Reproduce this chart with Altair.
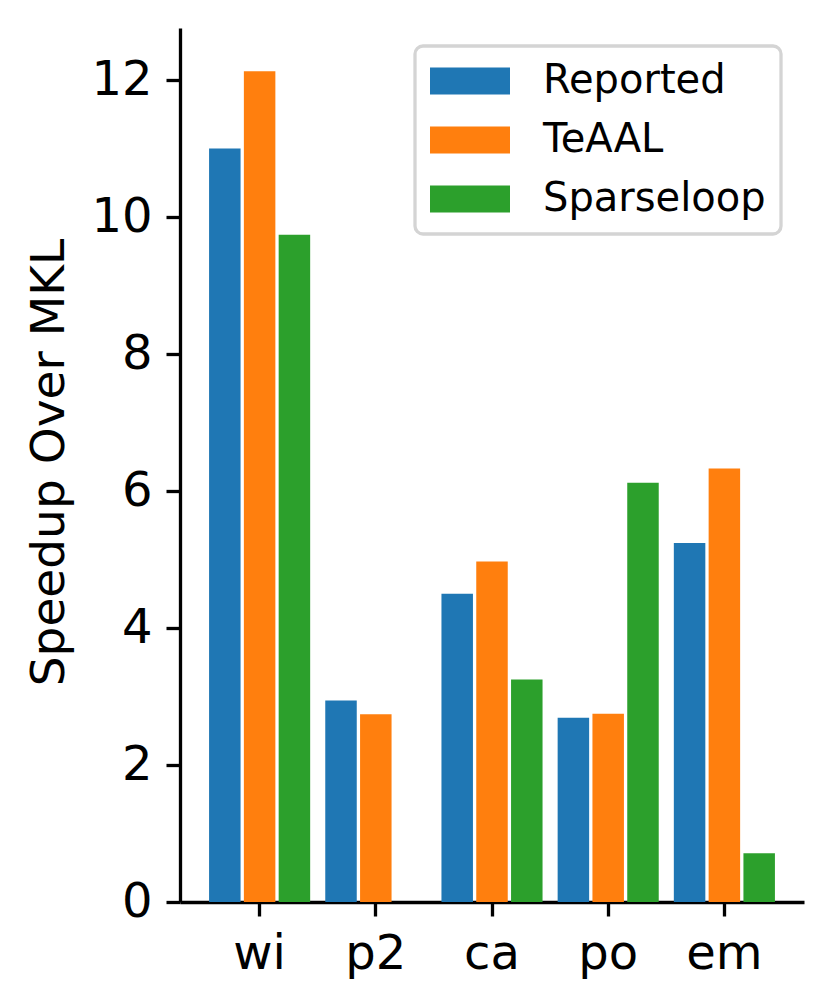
import altair as alt
import pandas as pd

datasets = ["wi", "p2", "ca", "po", "em"]
series = ["Reported", "TeAAL", "Sparseloop"]
reported = [11.0, 2.94, 4.50, 2.69, 5.24]
teaal = [12.13, 2.74, 4.97, 2.75, 6.33]
sparseloop = [9.74, None, 3.25, 6.12, 0.71]
colors = ["#1f77b4", "#ff7f0e", "#2ca02c"]
y_ticks = [0, 2, 4, 6, 8, 10, 12]

rows = []
for i, d in enumerate(datasets):
    for s, vals in zip(series, [reported, teaal, sparseloop]):
        if vals[i] is not None:
            rows.append({"dataset": d, "series": s, "speedup": vals[i]})
df = pd.DataFrame(rows)

FONT = "DejaVu Sans"

chart = alt.Chart(df).mark_bar().encode(
    x=alt.X("dataset:N", sort=datasets,
            scale=alt.Scale(paddingInner=0.1015, paddingOuter=0.236),
            axis=alt.Axis(title=None, labelAngle=0, labelFontSize=48,
                          labelBaseline="alphabetic", labelPadding=52,
                          tickSize=14, tickWidth=3.3, domainWidth=3.3,
                          domainColor="black", tickColor="black",
                          labelColor="black", labelFont=FONT)),
    xOffset=alt.XOffset("series:N", sort=series,
                        scale=alt.Scale(paddingInner=0.095, paddingOuter=0.0475)),
    y=alt.Y("speedup:Q",
            scale=alt.Scale(domain=[0, 12.76], nice=False, zero=True),
            axis=alt.Axis(title="Speedup Over MKL", values=y_ticks, grid=False,
                          labelFontSize=48, labelPadding=14, tickSize=14,
                          tickWidth=3.3, domainWidth=3.3, domainColor="black",
                          tickColor="black", labelColor="black", labelFont=FONT,
                          titleFont=FONT, titleFontSize=47, titleFontWeight="normal",
                          titleColor="black", titleAngle=270, titleX=-116.5,
                          titleY=434, titleAlign="center",
                          titleBaseline="alphabetic")),
    color=alt.Color("series:N", sort=series,
                    scale=alt.Scale(domain=series, range=colors),
                    legend=alt.Legend(title=None, orient="none", legendX=235,
                                      legendY=18,
                                      symbolType="M-1,-0.675H3V0.675H-1Z",
                                      symbolSize=1600, symbolStrokeWidth=0,
                                      symbolOpacity=1,
                                      labelFontSize=40, labelFont=FONT,
                                      labelColor="black", labelOffset=73,
                                      labelLimit=500,
                                      rowPadding=19, padding=15,
                                      fillColor="white", strokeColor="#d4d4d4",
                                      cornerRadius=8)),
).properties(
    width=624,
    height=874,
    autosize=alt.AutoSizeParams(type="none"),
    padding={"left": 172, "top": 20, "right": 20, "bottom": 100},
).configure_view(stroke=None).configure_legend(strokeWidth=3.3)

chart.save("out.html", embed_options={"renderer": "svg", "actions": False})
